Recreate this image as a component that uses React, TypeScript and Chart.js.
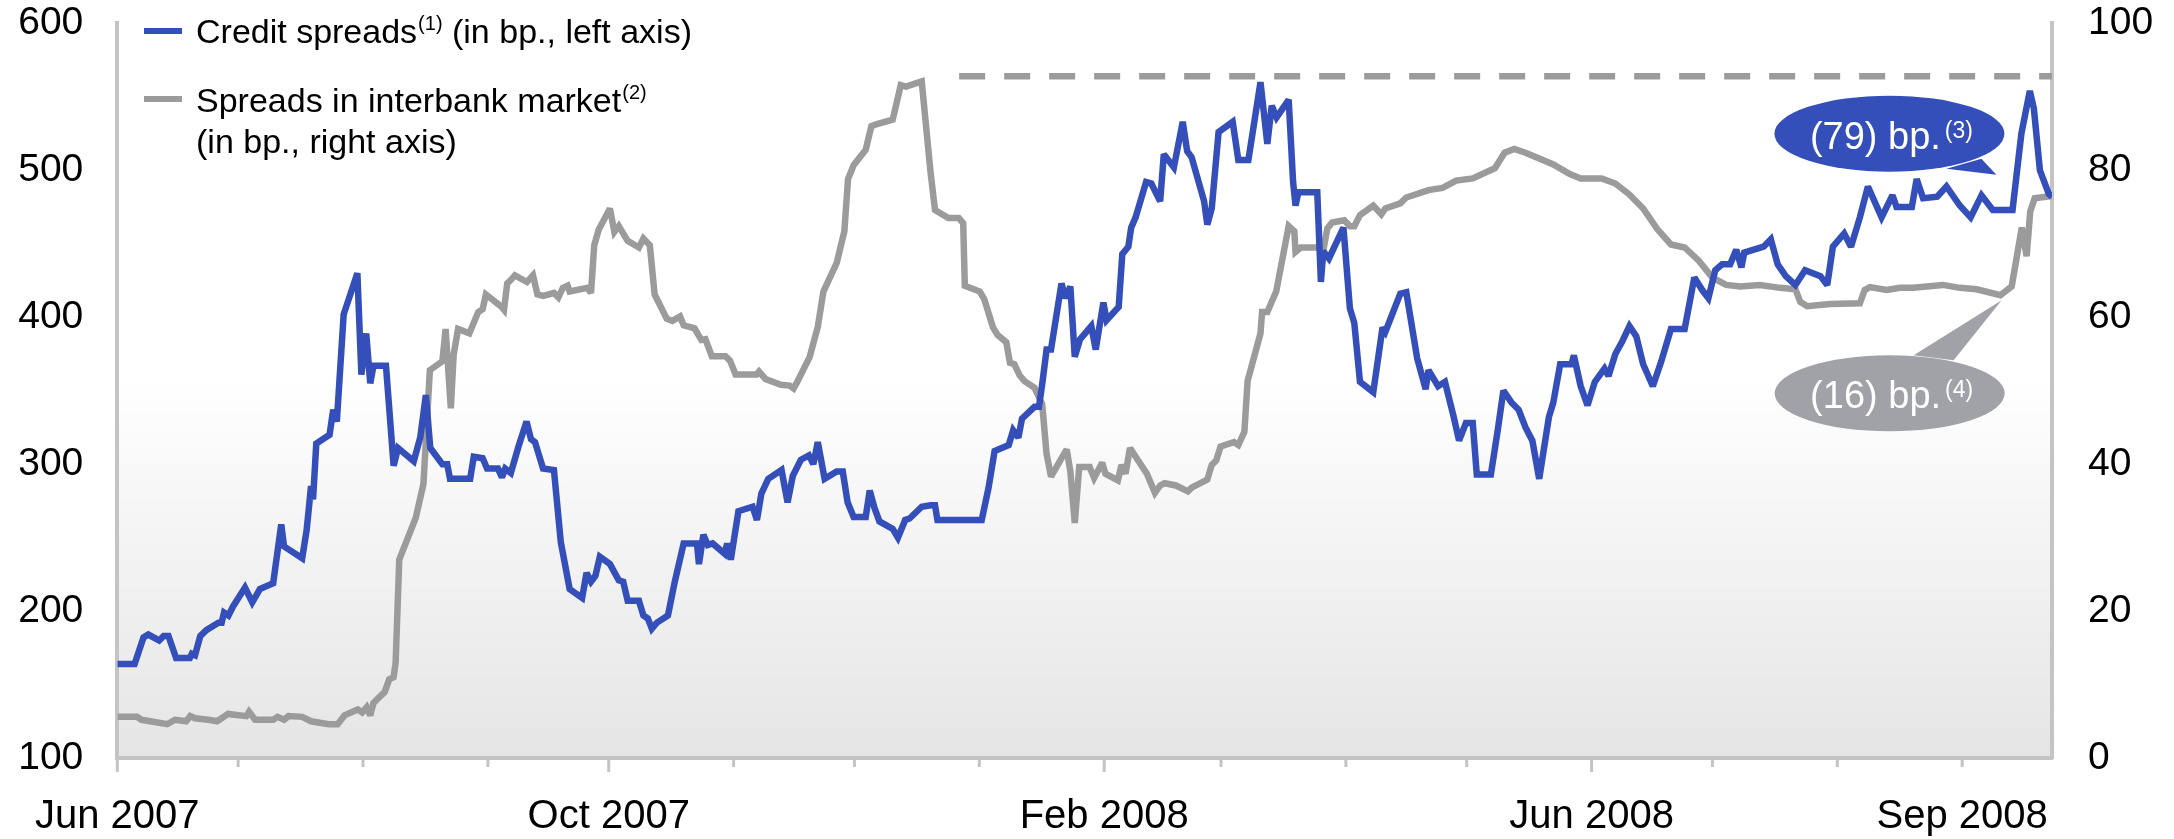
import React, { useEffect, useRef } from 'react';
import { Chart, registerables } from 'chart.js';

Chart.register(...registerables);

const FONT = '"Liberation Sans", Arial, Helvetica, sans-serif';
const BLUE = '#344EBA';
const GREY = '#9B9B9B';
const AXIS_GREY = '#C4C4C4';
const CALLOUT_GREY = '#A1A1A8';

// x values are days counted from 1 June 2007
const creditDays = [
  0, 4.3, 6.5, 7.7, 10.4, 11.5, 12.7, 14.6, 18, 18.5,
  19.3, 20.6, 22.1, 25.1, 25.9, 26.5, 27.6, 28.7, 31.7, 33.5,
  35.4, 38.7, 40.7, 41.4, 45.9, 47, 48.1, 48.6, 49.4, 52.7,
  53.6, 54.5, 56.2, 59.6, 60.6, 61.8, 62.8, 63.6, 66.7, 68.6,
  69.7, 73.6, 75.2, 76.6, 77.7, 80.7, 81.9, 82.6, 87.6, 88.5,
  90.7, 91.8, 94.5, 95.5, 96.3, 97.7, 99.6, 101.6, 102.7, 103.7,
  105.7, 108.4, 110.1, 112.3, 115.4, 116.5, 117.6, 118.7, 119.8, 122.3,
  124.5, 125.6, 126.7, 129.5, 130.6, 131.7, 132.7, 133.9, 136.7, 138.4,
  140.6, 143.9, 144.4, 145.5, 146.6, 147.8, 150.8, 151.4, 152.3, 154.2,
  157.7, 158.8, 159.9, 161.6, 164.9, 166.4, 167.7, 169.7, 171.7, 172.8,
  173.9, 175.6, 178.6, 180.1, 181.3, 182.8, 185.8, 186.8, 188, 189.2,
  192.5, 193.8, 195.6, 196.7, 199.7, 201.9, 203, 203.6, 214.6, 216.3,
  217.8, 221.3, 222.4, 223.7, 224.6, 227.7, 228.8, 229.6, 230.7, 231.8,
  234.4, 235.4, 236.6, 237.7, 239, 241.8, 242.9, 244.8, 245.6, 248.6,
  249.5, 251, 251.7, 252.8, 255.4, 256.7, 258.9, 259.8, 262.3, 264.5,
  265.6, 266.7, 269.8, 270.6, 271.7, 273.4, 276.9, 278.3, 280.8, 283.8,
  285.5, 286.6, 287.8, 290.8, 291.9, 292.5, 293.2, 297.9, 298.8, 299.4,
  300.8, 304.4, 306, 307.1, 308.5, 311.8, 314.1, 314.8, 318.5, 320,
  322.7, 324.8, 325.5, 327.9, 329.6, 331.7, 333.1, 334.8, 336.5, 337.5,
  341, 342.7, 344.1, 346.1, 347.9, 349.6, 351.3, 353, 355.4, 356.5,
  358.2, 361, 361.6, 363.3, 365, 366.8, 369.2, 370.2, 371.9, 373.7,
  375.4, 377.1, 378.8, 381.2, 383.3, 385.7, 389.1, 391.5, 393.6, 395,
  396.7, 398.4, 400.4, 401.9, 403.2, 403.9, 408.7, 410.5, 412.2, 414.2,
  416.6, 419, 422.8, 424.5, 425.9, 428.7, 430.4, 432.6, 434.6, 438,
  440.7, 441.7, 445.5, 446.7, 448.3, 451.8, 454.1, 457.4, 460.1, 462.8,
  465.6, 468.6, 470.5, 472.7, 474.8, 475.8, 477.3, 479.5, 480.3,
];
const creditValues = [
  164, 164, 182, 184, 180, 183, 183, 168, 168, 171,
  170, 183, 187, 192, 192, 199, 197, 203, 216, 206,
  215, 219, 259, 244, 236, 255, 285, 276, 314, 320,
  337, 329, 402, 430, 361, 389, 355, 367, 367, 299,
  311, 302, 318, 347, 311, 300, 300, 290, 290, 305,
  304, 297, 297, 291, 297, 294, 312, 329, 317, 315,
  297, 296, 247, 215, 209, 226, 220, 224, 237, 232,
  221, 220, 207, 207, 197, 195, 188, 192, 197, 220,
  246, 246, 232, 252, 245, 246, 239, 246, 235, 268,
  271, 262, 280, 290, 296, 274, 292, 303, 306, 300,
  315, 290, 295, 295, 274, 264, 264, 282, 270, 261,
  256, 250, 262, 263, 271, 272, 272, 262, 262, 284,
  309, 313, 323, 318, 331, 339, 339, 354, 378, 378,
  423, 413, 421, 373, 385, 394, 378, 410, 398, 407,
  443, 448, 461, 468, 492, 491, 479, 511, 502, 533,
  513, 509, 479, 463, 474, 526, 533, 507, 507, 560,
  518, 544, 536, 548, 492, 476, 485, 485, 424, 445,
  440, 461, 406, 396, 356, 349, 393, 390, 416, 417,
  372, 351, 364, 353, 356, 333, 316, 328, 328, 293,
  293, 323, 350, 342, 337, 325, 316, 290, 332, 342,
  368, 368, 374, 353, 340, 356, 365, 360, 375, 384,
  394, 387, 368, 353, 370, 392, 392, 427, 418, 413,
  432, 436, 436, 446, 434, 444, 448, 453, 436, 428,
  422, 432, 428, 422, 448, 457, 448, 468, 489, 468,
  483, 475, 475, 494, 481, 482, 489, 476, 468, 483,
  473, 473, 473, 525, 554, 542, 500, 484, 482,
];

const interbankDays = [
  0, 4.9, 6, 12.4, 14.3, 17.1, 18.1, 19.3, 22.6, 24.8,
  27.5, 32, 32.7, 34.2, 38.7, 39.8, 41.4, 42.5, 45.9, 48.1,
  52.5, 54.7, 56.4, 59.7, 60.8, 61.9, 62.8, 63.6, 66.4, 67.5,
  68.6, 69.1, 70, 74.1, 76, 77.6, 80.7, 81.5, 82.8, 83.5,
  84.6, 87.4, 89.6, 90.7, 91.5, 95.2, 96, 96.8, 97.9, 98.7,
  101.7, 103.2, 104.3, 105.7, 108.4, 109.5, 110.6, 111.8, 112.3, 116.7,
  117.6, 118.4, 119.5, 122.3, 123.4, 124.5, 126.7, 129.5, 130.6, 132.2,
  133.4, 136.4, 137.8, 139.7, 140.6, 143.3, 145, 146, 147.6, 151,
  152.1, 153.5, 158.7, 159.3, 160.9, 164.7, 166.9, 167.9, 168.7, 171.9,
  173.9, 175.3, 178.6, 180.5, 181.4, 182.8, 185.8, 187.2, 188.6, 192.5,
  194.5, 195.8, 199.7, 201.9, 203, 206.3, 208.9, 210, 210.4, 214.1,
  215.2, 217.4, 218.5, 220.7, 221.6, 222.7, 224, 225.2, 227.7, 229.6,
  230.7, 231.8, 234, 235.7, 236.6, 237.7, 238.8, 241.4, 242.5, 244.5,
  245.3, 248.4, 249.3, 250.3, 251.4, 255.6, 257.6, 258.9, 260, 262.8,
  265.8, 266.7, 270.6, 271.7, 272.8, 273.9, 277.2, 278.3, 279.8, 280.6,
  283.8, 284.2, 285.5, 287.7, 290.8, 292.2, 292.5, 293.8, 298.2, 299.4,
  300.4, 301.6, 304.6, 306, 307.1, 308.5, 311.8, 313.8, 314.8, 318.5,
  320, 325.5, 329, 332.4, 336.5, 342, 344.4, 346.8, 349.6, 353,
  356.5, 360.6, 363.3, 368.5, 371.9, 375.4, 378.8, 382.3, 385.7, 389.1,
  392.6, 396, 399.4, 402.9, 407.8, 412.8, 416.6, 417.8, 419.5, 425.2,
  432.6, 433.8, 435.1, 439.2, 442.6, 445.8, 453.2, 457.4, 461.6, 467.5,
  468.2, 470.3, 472.8, 474, 474.9, 476, 480.3,
];
const interbankValues = [
  5.6, 5.6, 5.2, 4.6, 5.2, 5.0, 5.7, 5.4, 5.2, 5.0,
  6.0, 5.7, 6.3, 5.2, 5.2, 5.6, 5.2, 5.7, 5.6, 5.0,
  4.6, 4.6, 5.8, 6.6, 6.2, 6.9, 5.8, 7.5, 9.0, 10.7,
  11.0, 13.0, 27.0, 32.7, 37.3, 52.8, 54.0, 58.4, 47.6, 54.9,
  58.4, 57.8, 60.7, 61.1, 63.1, 61.5, 61.0, 64.6, 65.2, 65.7,
  64.8, 65.7, 63.1, 62.9, 63.3, 62.7, 64.0, 64.3, 63.5, 64.0,
  63.3, 69.8, 71.9, 74.8, 71.6, 72.4, 70.4, 69.5, 70.7, 69.8,
  63.1, 59.8, 59.5, 60.1, 58.9, 58.5, 56.9, 57.0, 54.7, 54.7,
  54.1, 52.2, 52.2, 52.6, 51.6, 50.8, 50.7, 50.3, 51.1, 54.6,
  58.7, 63.5, 67.4, 71.7, 78.8, 80.7, 82.8, 86.0, 86.3, 86.9,
  91.6, 91.4, 92.1, 79.7, 74.6, 73.5, 73.5, 72.8, 64.3, 63.5,
  62.5, 58.6, 57.6, 56.6, 53.8, 53.6, 52.1, 51.3, 50.4, 48.2,
  41.4, 38.3, 40.4, 42.0, 39.0, 32.0, 39.6, 39.6, 38.1, 40.2,
  38.7, 37.8, 39.9, 38.7, 42.2, 38.7, 36.1, 37.1, 37.4, 37.1,
  36.3, 36.8, 37.9, 39.9, 40.5, 42.4, 43.0, 42.6, 44.4, 51.3,
  57.8, 60.7, 60.7, 63.5, 72.4, 71.7, 68.9, 69.5, 69.5, 69.1,
  72.1, 72.9, 73.2, 72.4, 72.4, 73.9, 75.2, 74.0, 74.8, 75.5,
  76.3, 77.3, 77.6, 78.6, 78.9, 80.3, 82.4, 82.9, 82.4, 81.6,
  80.8, 79.5, 78.9, 78.9, 78.2, 76.7, 74.8, 72.0, 69.9, 69.5,
  67.7, 65.4, 64.4, 64.2, 64.4, 64.0, 63.8, 62.1, 61.5, 61.8,
  61.9, 63.7, 64.1, 63.7, 64.0, 64.0, 64.4, 64.0, 63.8, 63.0,
  63.3, 64.2, 72.2, 68.3, 74.4, 76.2, 76.5,
];

// month starts (days from 1 June 2007) and their labels
const monthTickDays = [0, 30, 61, 92, 122, 153, 183, 214, 245, 274, 305, 335, 366, 396, 427, 458];
const monthTickLabels = ['Jun 2007', '', '', '', 'Oct 2007', '', '', '', 'Feb 2008', '', '', '', 'Jun 2008', '', '', 'Sep 2008'];
const leftAxisTicks = [100, 200, 300, 400, 500, 600];
const rightAxisTicks = [0, 20, 40, 60, 80, 100];

const xMaxDay = 480.3;
const peakLineDays = [209, 480.3];
const peakLineValues = [92.8, 92.8];

const creditCallout = { day: 466.5, value: 497, text: '(79) bp.', note: '(3)' };
const interbankCallout = { day: 467.8, value: 62.3, text: '(16) bp.', note: '(4)' };

function drawParts(ctx: CanvasRenderingContext2D, x: number, parts: { t: string; size: number; base: number; gap?: number }[]) {
  let cx = x;
  for (const p of parts) {
    ctx.font = `${p.size}px ${FONT}`;
    cx += p.gap || 0;
    ctx.fillText(p.t, cx, p.base);
    cx += ctx.measureText(p.t).width;
  }
  return cx;
}

function partsWidth(ctx: CanvasRenderingContext2D, parts: { t: string; size: number; gap?: number }[]) {
  let w = 0;
  for (const p of parts) {
    ctx.font = `${p.size}px ${FONT}`;
    w += ctx.measureText(p.t).width + (p.gap || 0);
  }
  return w;
}

export default function App() {
  const ref = useRef<HTMLCanvasElement>(null);

  useEffect(() => {
    const canvas = ref.current;
    if (!canvas) return;

    const bgPlugin = {
      id: 'bgGradient',
      beforeDraw(chart: any) {
        const { ctx, chartArea: a } = chart;
        const g = ctx.createLinearGradient(0, a.top, 0, a.bottom);
        g.addColorStop(0, '#ffffff');
        g.addColorStop(0.48, '#ffffff');
        g.addColorStop(1, '#e5e5e5');
        ctx.save();
        ctx.fillStyle = g;
        ctx.fillRect(a.left, a.top, a.right - a.left, a.bottom - a.top);
        ctx.restore();
      },
      beforeDatasetsDraw(chart: any) {
        chart.ctx.miterLimit = 2.5;
      },
      afterDatasetsDraw(chart: any) {
        chart.ctx.miterLimit = 10;
      },
    };

    const ticksPlugin = {
      id: 'monthTicks',
      afterDraw(chart: any) {
        const xs = chart.scales.x;
        const ctx = chart.ctx;
        ctx.save();
        ctx.strokeStyle = AXIS_GREY;
        ctx.lineWidth = 3;
        monthTickDays.forEach((d, i) => {
          const px = xs.getPixelForValue(d);
          const len = i % 4 === 0 ? 14 : 9;
          ctx.beginPath();
          ctx.moveTo(px, xs.top);
          ctx.lineTo(px, xs.top + len);
          ctx.stroke();
        });
        ctx.restore();
      },
    };

    const annotPlugin = {
      id: 'annotations',
      afterDraw(chart: any) {
        const ctx: CanvasRenderingContext2D = chart.ctx;
        const xs = chart.scales.x;
        ctx.save();
        // legend
        ctx.fillStyle = BLUE;
        ctx.fillRect(144, 28, 38, 6);
        ctx.fillStyle = GREY;
        ctx.fillRect(144, 96, 38, 6);
        ctx.fillStyle = '#000';
        ctx.textBaseline = 'alphabetic';
        ctx.textAlign = 'left';
        drawParts(ctx, 196, [
          { t: 'Credit spreads', size: 34, base: 43 },
          { t: '(1)', size: 20, base: 30, gap: 1 },
          { t: ' (in bp., left axis)', size: 34, base: 43 },
        ]);
        drawParts(ctx, 196, [
          { t: 'Spreads in interbank market', size: 34, base: 112 },
          { t: '(2)', size: 20, base: 99, gap: 1 },
        ]);
        drawParts(ctx, 196, [{ t: '(in bp., right axis)', size: 34, base: 153 }]);

        // callouts
        const callout = (tipX: number, tipY: number, dx: number, dy: number, b1: number[], b2: number[], color: string, text: string, note: string) => {
          const cx = tipX + dx;
          const cy = tipY + dy;
          ctx.fillStyle = color;
          ctx.beginPath();
          ctx.ellipse(cx, cy, 115, 38, 0, 0, Math.PI * 2);
          ctx.fill();
          ctx.beginPath();
          ctx.moveTo(tipX + b1[0], tipY + b1[1]);
          ctx.lineTo(tipX, tipY);
          ctx.lineTo(tipX + b2[0], tipY + b2[1]);
          ctx.closePath();
          ctx.fill();
          const parts = [
            { t: text, size: 38, base: cy + 15 },
            { t: note, size: 23, base: cy + 4, gap: 4 },
          ];
          const w = partsWidth(ctx, parts);
          ctx.fillStyle = '#ffffff';
          drawParts(ctx, cx - w / 2 + 2, parts);
        };
        const y = chart.scales.y;
        const y1 = chart.scales.y1;
        callout(
          xs.getPixelForValue(creditCallout.day), y.getPixelForValue(creditCallout.value),
          -107, -41, [-50, -6], [-15, -16], BLUE, creditCallout.text, creditCallout.note,
        );
        callout(
          xs.getPixelForValue(interbankCallout.day), y1.getPixelForValue(interbankCallout.value),
          -112, 93, [-88, 55], [-48, 60], CALLOUT_GREY, interbankCallout.text, interbankCallout.note,
        );
        ctx.restore();
      },
    };

    const hiddenGrid = (len: number) => ({
      display: true,
      drawOnChartArea: false,
      drawTicks: len > 0,
      tickLength: len,
      color: 'rgba(0,0,0,0)',
      tickColor: 'rgba(0,0,0,0)',
    });

    const chart = new Chart(canvas, {
      type: 'line',
      data: {
        datasets: [
          {
            label: 'Credit spreads',
            data: creditDays.map((d, i) => ({ x: d, y: creditValues[i] })),
            borderColor: BLUE,
            borderWidth: 6.5,
            pointRadius: 0,
            tension: 0,
            yAxisID: 'y',
            order: 0,
          },
          {
            label: 'Spreads in interbank market',
            data: interbankDays.map((d, i) => ({ x: d, y: interbankValues[i] })),
            borderColor: GREY,
            borderWidth: 6.5,
            pointRadius: 0,
            tension: 0,
            yAxisID: 'y1',
            order: 1,
          },
          {
            label: 'Peak',
            data: peakLineDays.map((d, i) => ({ x: d, y: peakLineValues[i] })),
            borderColor: GREY,
            borderWidth: 6.5,
            borderDash: [26, 19],
            pointRadius: 0,
            yAxisID: 'y1',
            order: 2,
          },
        ],
      },
      options: {
        responsive: false,
        animation: false,
        layout: { padding: { top: 23, left: 0, right: 0, bottom: 0 } },
        plugins: { legend: { display: false }, tooltip: { enabled: false } },
        scales: {
          x: {
            type: 'linear',
            min: 0,
            max: xMaxDay,
            afterBuildTicks: (s: any) => {
              s.ticks = monthTickDays.map((v) => ({ value: v }));
            },
            afterFit: (s: any) => {
              s.height = 81;
            },
            grid: hiddenGrid(0),
            border: { display: true, color: AXIS_GREY, width: 4 },
            ticks: {
              autoSkip: false,
              maxRotation: 0,
              minRotation: 0,
              padding: 35,
              color: '#000',
              font: { family: FONT, size: 40 },
              callback: (_v: any, i: number) => monthTickLabels[i],
            },
          },
          y: {
            type: 'linear',
            position: 'left',
            min: 100,
            max: 600,
            afterBuildTicks: (s: any) => {
              s.ticks = leftAxisTicks.map((v) => ({ value: v }));
            },
            afterFit: (s: any) => {
              s.width = 116;
            },
            grid: hiddenGrid(34),
            border: { display: true, color: AXIS_GREY, width: 4 },
            ticks: { padding: 0, color: '#000', font: { family: FONT, size: 39 } },
          },
          y1: {
            type: 'linear',
            position: 'right',
            min: 0,
            max: 100,
            afterBuildTicks: (s: any) => {
              s.ticks = rightAxisTicks.map((v) => ({ value: v }));
            },
            afterFit: (s: any) => {
              s.width = 122;
            },
            grid: hiddenGrid(36),
            border: { display: true, color: AXIS_GREY, width: 4 },
            ticks: { padding: 0, color: '#000', font: { family: FONT, size: 39 } },
          },
        },
      },
      plugins: [bgPlugin, ticksPlugin, annotPlugin],
    } as any);

    return () => chart.destroy();
  }, []);

  return (
    <div style={{ position: 'absolute', left: 0, top: 0, width: 2174, height: 839, background: '#fff' }}>
      <canvas ref={ref} width={2174} height={839} style={{ display: 'block', width: 2174, height: 839 }} />
    </div>
  );
}
